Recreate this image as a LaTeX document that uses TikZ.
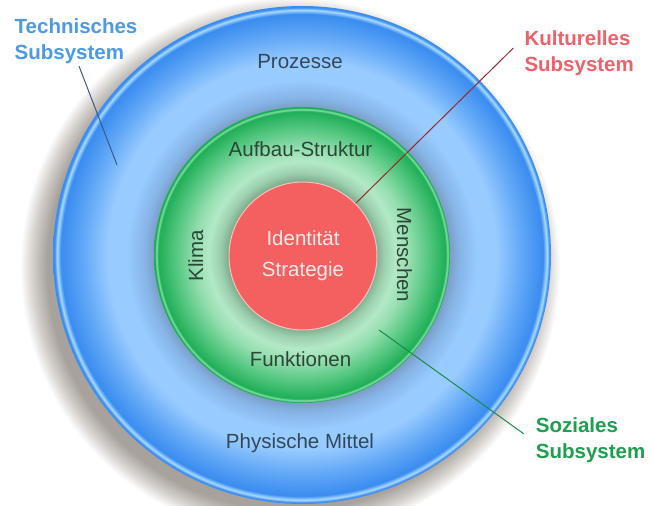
\documentclass[tikz,border=0pt]{standalone}
\usepackage{fontspec}
\setmainfont{Liberation Sans}
\definecolor{bShadow}{HTML}{7A98C0}
\definecolor{bMid}{HTML}{86B4E6}
\definecolor{bLight}{HTML}{98CBFF}
\definecolor{bMed}{HTML}{62A8F6}
\definecolor{bDark}{HTML}{3A8CF0}
\definecolor{bRim}{HTML}{A8DAFF}
\definecolor{gShadow}{HTML}{7AA889}
\definecolor{gMid}{HTML}{9CCFAE}
\definecolor{gLight}{HTML}{B3E9C6}
\definecolor{gMed}{HTML}{52C67F}
\definecolor{gDark}{HTML}{1FAE57}
\definecolor{gRim}{HTML}{8FE6B0}
\definecolor{shGray}{HTML}{A8A29C}
\definecolor{shMid}{HTML}{D2CECA}
\definecolor{redFill}{HTML}{F45F60}
\definecolor{techBlue}{HTML}{4A9AE6}
\definecolor{kultRed}{HTML}{F0606A}
\definecolor{sozGreen}{HTML}{1CA050}
\definecolor{ringTextB}{HTML}{33475B}
\definecolor{ringTextG}{HTML}{2D4636}
\definecolor{techLine}{HTML}{3A5A8A}
\definecolor{kultLine}{HTML}{9A2A2A}
\definecolor{sozLine}{HTML}{1A8A4A}
\pgfdeclareradialshading{bluering}{\pgfpointorigin}{%
 color(0bp)=(bShadow);
 color(14.6bp)=(bShadow);
 color(15.8bp)=(bMid);
 color(17.6bp)=(bLight);
 color(19.5bp)=(bLight);
 color(22bp)=(bMed);
 color(24.2bp)=(bDark);
 color(24.6bp)=(bRim);
 color(24.85bp)=(bDark);
 color(25bp)=(bDark);
 color(50bp)=(bDark)}
\pgfdeclareradialshading{greenring}{\pgfpointorigin}{%
 color(0bp)=(gShadow);
 color(12.3bp)=(gShadow);
 color(13.9bp)=(gMid);
 color(15.8bp)=(gLight);
 color(18bp)=(gLight!70!gMed);
 color(21.5bp)=(gMed);
 color(24.3bp)=(gDark);
 color(24.6bp)=(gRim);
 color(24.85bp)=(gDark);
 color(25bp)=(gDark);
 color(50bp)=(gDark)}
\pgfdeclareradialshading{shadowdisc}{\pgfpointorigin}{%
 color(0bp)=(shGray);
 color(22.5bp)=(shGray);
 color(23.8bp)=(shMid);
 color(25bp)=(white);
 color(50bp)=(white)}
\tikzset{
  lbl/.style={inner sep=0pt, align=left, anchor=north west,
    font=\fontsize{20.5}{26}\selectfont\bfseries},
  ringtxt/.style={inner sep=0pt, anchor=base,
    font=\fontsize{20.5}{26}\selectfont},
  conn/.style={line width=1pt},
}
\begin{document}
\begin{tikzpicture}[x=1pt,y=-1pt]
\useasboundingbox (0,0) rectangle (654,506);
% drop shadow
\shade[shading=shadowdisc] (290,267) circle (270);
% rings
\node[circle, minimum size=498pt, inner sep=0pt, shade, shading=bluering] (blue) at (302,255) {};
\node[circle, minimum size=296pt, inner sep=0pt, shade, shading=greenring] (green) at (302,255) {};
\node[circle, minimum size=148pt, inner sep=0pt, fill=redFill,
      draw=white!60!redFill, line width=1pt, text=white!92!red, align=center,
      font=\fontsize{20.5}{31}\selectfont] (red) at (303,256) {Identität\\Strategie};
% ring texts
\node[ringtxt, text=ringTextB] (proz) at (300,68) {Prozesse};
\node[ringtxt, text=ringTextB] (phys) at (300,448.5) {Physische Mittel};
\node[ringtxt, text=ringTextG] (aufb) at (300.5,156.7) {Aufbau-Struktur};
\node[ringtxt, text=ringTextG] (funk) at (300.5,366.7) {Funktionen};
\node[ringtxt, text=ringTextG, rotate=90] (klima) at (203,256) {Klima};
\node[ringtxt, text=ringTextG, rotate=-90] (mensch) at (397,255) {Menschen};
% outside labels
\node[lbl, text=techBlue] (tech) at (14.5,18.6) {Technisches\\Subsystem};
\node[lbl, text=kultRed] (kult) at (524.3,30.3) {Kulturelles\\Subsystem};
\node[lbl, text=sozGreen] (soz) at (535.7,417) {Soziales\\Subsystem};
% connectors
\coordinate (techEnd) at (117,165);
\coordinate (sozEnd) at (379,330);
\draw[conn, techLine] ([xshift=3pt,yshift=-2pt]tech.south) -- (techEnd);
\draw[conn, kultLine] (red.45) -- ([xshift=-11pt,yshift=5pt]kult.west);
\draw[conn, sozLine] (sozEnd) -- ([xshift=-12pt,yshift=6pt]soz.west);
\end{tikzpicture}
\end{document}
